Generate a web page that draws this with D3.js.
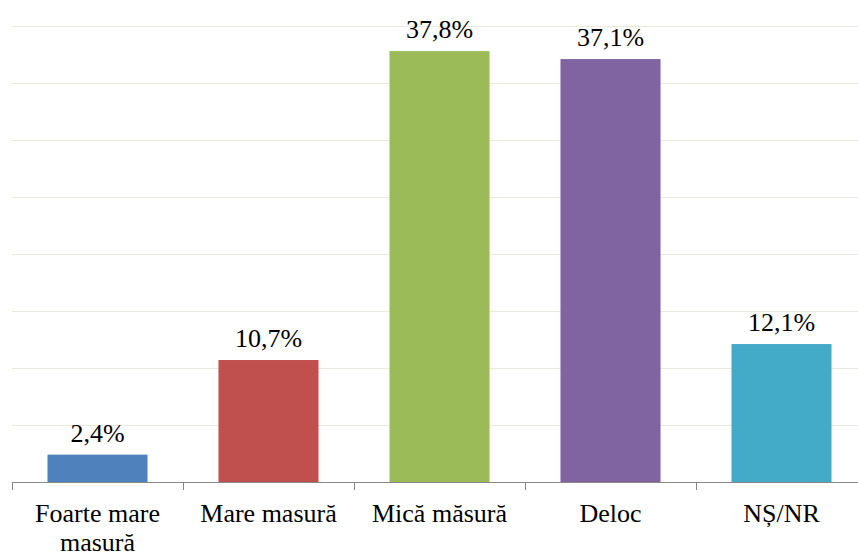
<!DOCTYPE html>
<html>
<head>
<meta charset="utf-8">
<script src="https://cdn.jsdelivr.net/npm/d3@7"></script>
<style>
  body { margin: 0; background: #fff; }
  svg { display: block; }
</style>
</head>
<body>
<script>
var categories = [['Foarte mare', 'masură'], ['Mare masură'], ['Mică măsură'], ['Deloc'], ['NȘ/NR']];
var values = [2.4, 10.7, 37.8, 37.1, 12.1];
var valueLabels = ['2,4%', '10,7%', '37,8%', '37,1%', '12,1%'];
var colors = ['#4f81bd', '#c0504d', '#9bbb59', '#8064a2', '#43aac7'];
var gridTicks = [0, 5, 10, 15, 20, 25, 30, 35, 40];

var width = 858;
var height = 554;
var plotLeft = 12, plotRight = 867, plotTop = 26, plotBottom = 482;

var svg = d3.select('body').append('svg')
  .attr('width', width)
  .attr('height', height)
  .attr('font-family', 'Liberation Serif');

var x = d3.scaleBand()
  .domain(d3.range(values.length))
  .range([plotLeft, plotRight])
  .paddingInner(0.415)
  .paddingOuter(0.2075);

var y = d3.scaleLinear()
  .domain([0, 40])
  .range([plotBottom, plotTop]);

// gridlines
svg.append('g')
  .selectAll('line')
  .data(gridTicks.slice(1))
  .enter().append('line')
  .attr('x1', plotLeft)
  .attr('x2', width)
  .attr('y1', function (d) { return Math.round(y(d)) + 0.5; })
  .attr('y2', function (d) { return Math.round(y(d)) + 0.5; })
  .attr('stroke', '#ece8dc')
  .attr('stroke-width', 1);

// bars
svg.append('g')
  .selectAll('rect')
  .data(values)
  .enter().append('rect')
  .attr('x', function (d, i) { return x(i); })
  .attr('y', function (d) { return y(d); })
  .attr('width', x.bandwidth())
  .attr('height', function (d) { return y(0) - y(d); })
  .attr('fill', function (d, i) { return colors[i]; });

// x axis line + ticks on category boundaries
var axis = svg.append('g').attr('stroke', '#878787').attr('stroke-width', 1);
axis.append('line')
  .attr('x1', plotLeft).attr('x2', width)
  .attr('y1', plotBottom + 0.5).attr('y2', plotBottom + 0.5);

var step = x.step();
axis.selectAll('.tk')
  .data(d3.range(values.length + 1))
  .enter().append('line')
  .attr('class', 'tk')
  .attr('x1', function (i) { return Math.round(plotLeft + i * step) + 0.5; })
  .attr('x2', function (i) { return Math.round(plotLeft + i * step) + 0.5; })
  .attr('y1', plotBottom)
  .attr('y2', plotBottom + 8);

// value labels
svg.append('g')
  .selectAll('text')
  .data(values)
  .enter().append('text')
  .attr('x', function (d, i) { return x(i) + x.bandwidth() / 2; })
  .attr('y', function (d) { return y(d) - 13; })
  .attr('text-anchor', 'middle')
  .attr('font-size', 26)
  .attr('fill', '#000')
  .text(function (d, i) { return valueLabels[i]; });

// category labels
var cat = svg.append('g')
  .selectAll('text')
  .data(categories)
  .enter().append('text')
  .attr('x', function (d, i) { return x(i) + x.bandwidth() / 2; })
  .attr('y', 522)
  .attr('text-anchor', 'middle')
  .attr('font-size', 26)
  .attr('fill', '#000');

cat.selectAll('tspan')
  .data(function (d) { return d; })
  .enter().append('tspan')
  .attr('x', function () { return d3.select(this.parentNode).attr('x'); })
  .attr('dy', function (d, j) { return j === 0 ? 0 : 29; })
  .text(function (d) { return d; });
</script>
</body>
</html>
